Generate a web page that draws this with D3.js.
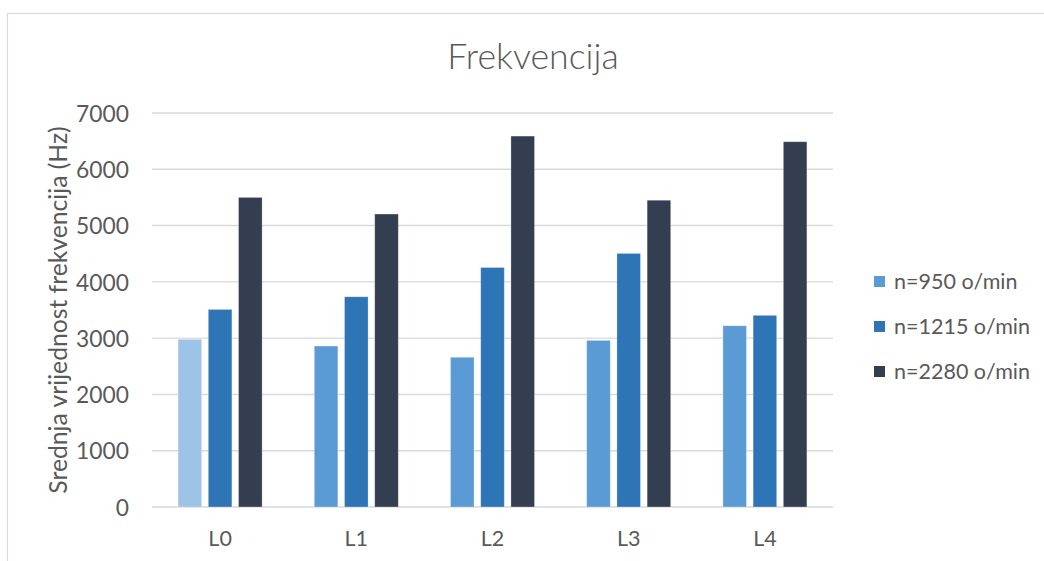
<!DOCTYPE html>
<html>
<head>
<meta charset="utf-8">
<script src="https://cdn.jsdelivr.net/npm/d3@7"></script>
<style>
  html, body { margin: 0; padding: 0; background: #fff; }
  svg { display: block; font-family: Lato, "Open Sans", sans-serif; }
</style>
</head>
<body>
<svg id="chart" width="1044" height="561"></svg>
<script>
// Chart data
const title = "Frekvencija";
const yAxisTitle = "Srednja vrijednost frekvencija (Hz)";
const categories = ["L0", "L1", "L2", "L3", "L4"];
const seriesNames = ["n=950 o/min", "n=1215 o/min", "n=2280 o/min"];
const n950 = [2980, 2860, 2660, 2960, 3220];
const n1215 = [3510, 3735, 4255, 4505, 3405];
const n2280 = [5500, 5205, 6590, 5450, 6490];
const yTicks = [0, 1000, 2000, 3000, 4000, 5000, 6000, 7000];

const seriesValues = [n950, n1215, n2280];

// Styling
const colors = ["#5B9BD5", "#2E75B6", "#333F50"];
const pointFill = { "L0|0": "#9DC3E6" };   // individually recoloured point
const textColor = "#595959";
const gridColor = "#D9D9D9";

const W = 1044, H = 561;
const plot = { left: 152, right: 833, top: 113, bottom: 507 };

const svg = d3.select("#chart");

// Outer chart frame (extends past the visible area on the right and bottom)
svg.append("rect")
  .attr("x", 7.5).attr("y", 13.5)
  .attr("width", W + 20).attr("height", H + 20)
  .attr("fill", "#fff")
  .attr("stroke", gridColor).attr("stroke-width", 1.2);

const x0 = d3.scaleBand().domain(categories).range([plot.left, plot.right]).padding(0);
const groupW = 84;
const x1 = d3.scaleBand().domain(d3.range(seriesNames.length))
  .range([(x0.bandwidth() - groupW) / 2, (x0.bandwidth() + groupW) / 2])
  .paddingInner(0.22);
const y = d3.scaleLinear().domain([0, 7000]).range([plot.bottom, plot.top]);

// Gridlines
svg.append("g")
  .selectAll("line").data(yTicks).join("line")
  .attr("x1", plot.left).attr("x2", plot.right)
  .attr("y1", d => y(d)).attr("y2", d => y(d))
  .attr("stroke", gridColor).attr("stroke-width", 1.4);

// Y axis tick labels
const yAxis = d3.axisLeft(y).tickValues(yTicks).tickSize(0).tickPadding(0).tickFormat(d3.format("d"));
const yg = svg.append("g").attr("transform", `translate(${plot.left - 23},0)`).call(yAxis);
yg.select(".domain").remove();
yg.selectAll("text")
  .attr("fill", textColor).attr("font-size", 22.8)
  .attr("font-family", "Lato, sans-serif")
  .attr("dy", "0.36em");

// Bars
const rows = [];
categories.forEach((c, i) => {
  seriesValues.forEach((vals, s) => rows.push({ cat: c, s, v: vals[i] }));
});
svg.append("g")
  .selectAll("rect").data(rows).join("rect")
  .attr("x", d => x0(d.cat) + x1(d.s))
  .attr("width", x1.bandwidth())
  .attr("y", d => y(d.v))
  .attr("height", d => y(0) - y(d.v))
  .attr("fill", d => pointFill[`${d.cat}|${d.s}`] || colors[d.s])
  .attr("stroke", "#fff").attr("stroke-opacity", 0.35).attr("stroke-width", 0.8);

// X axis labels
const xAxis = d3.axisBottom(x0).tickSize(0).tickPadding(0);
const xg = svg.append("g").attr("transform", `translate(0,${plot.bottom})`).call(xAxis);
xg.select(".domain").remove();
xg.selectAll("text")
  .attr("fill", textColor).attr("font-size", 21.5)
  .attr("font-family", "Lato, sans-serif")
  .attr("dy", null).attr("y", 38.5);

// Title
svg.append("text")
  .attr("x", 533).attr("y", 69)
  .attr("text-anchor", "middle")
  .attr("fill", textColor)
  .attr("font-size", 35.7).attr("font-weight", 300)
  .text(title);

// Y axis title
svg.append("text")
  .attr("transform", `translate(67,${(plot.top + plot.bottom) / 2}) rotate(-90)`)
  .attr("text-anchor", "middle")
  .attr("fill", textColor)
  .attr("font-size", 24.7)
  .text(yAxisTitle);

// Legend
const legend = svg.append("g").attr("transform", "translate(874,281.5)");
const li = legend.selectAll("g").data(seriesNames).join("g")
  .attr("transform", (d, i) => `translate(0,${i * 45})`);
li.append("rect")
  .attr("x", 0).attr("y", -5.5).attr("width", 11).attr("height", 11)
  .attr("fill", (d, i) => colors[i]);
li.append("text")
  .attr("x", 20).attr("y", 0).attr("dy", "0.36em")
  .attr("fill", textColor).attr("font-size", 21.5)
  .text(d => d);
</script>
</body>
</html>
